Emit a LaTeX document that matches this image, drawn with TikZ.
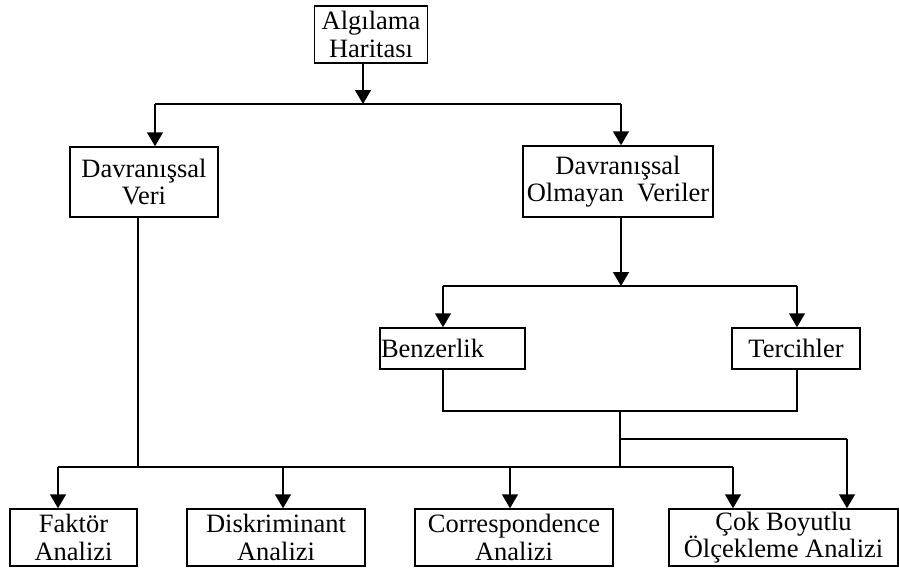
\documentclass[tikz,border=0pt]{standalone}
\usepackage{fontspec}
\setmainfont{Liberation Serif}
\usetikzlibrary{arrows.meta,calc}
\begin{document}
\begin{tikzpicture}[x=1pt,y=-1pt,
  box/.style={draw,line width=1.5pt,inner sep=0pt,align=center,
    font=\fontsize{26.5}{27.5}\selectfont},
  link/.style={line width=1.5pt},
  arr/.style={line width=1.5pt,-{Triangle[width=16pt,length=14pt]}}]
\useasboundingbox (0,0) rectangle (899,570);

% boxes
\node[box,minimum width=113pt,minimum height=57pt] (top) at (371,34.5) {Algılama\\Haritası};
\node[box,minimum width=148pt,minimum height=70pt] (dv) at (144,182) {Davranışsal\\Veri};
\node[box,minimum width=190pt,minimum height=71pt] (dov) at (618,181.5) {Davranışsal\\Olmayan\ \ Veriler};
\node[box,minimum width=145pt,minimum height=41pt,text width=143pt,align=left] (benz) at (452.5,348.5) {Benzerlik};
\node[box,minimum width=128pt,minimum height=41pt] (terc) at (796,348.5) {Tercihler};
\node[box,minimum width=127pt,minimum height=57pt] (fa) at (73.5,537.5) {Faktör\\Analizi};
\node[box,minimum width=178pt,minimum height=57pt] (di) at (276,537.5) {Diskriminant\\Analizi};
\node[box,minimum width=198pt,minimum height=57pt] (co) at (514,537.5) {Correspondence\\Analizi};
\node[box,minimum width=229pt,minimum height=57pt] (cb) at (783.5,537.5) {Çok Boyutlu\\Ölçekleme Analizi};

% first split
\coordinate (j1) at (363,104);
\coordinate (l1) at (155,104);
\coordinate (r1) at (621,104);
\draw[arr] (j1 |- top.south) -- (j1);
\draw[link] (l1) -- (r1);
\draw[arr] (l1) -- (l1 |- dv.north);
\draw[arr] (r1) -- (r1 |- dov.north);

% non-behavioural split
\coordinate (j2) at (621,286);
\coordinate (l2) at (443,286);
\coordinate (r2) at (797,286);
\draw[arr] (j2 |- dov.south) -- (j2);
\draw[link] (l2) -- (r2);
\draw[arr] (l2) -- (l2 |- benz.north);
\draw[arr] (r2) -- (r2 |- terc.north);

% merge of Benzerlik and Tercihler
\coordinate (ml) at (443,411);
\coordinate (mr) at (797,411);
\coordinate (mj) at (620,411);
\coordinate (mb) at (620,439);
\coordinate (mbr) at (847,439);
\coordinate (bj) at (620,467);
\draw[link] (ml |- benz.south) -- (ml) -- (mr) -- (mr |- terc.south);
\draw[link] (mj) -- (bj);
\draw[link] (mb) -- (mbr);
\draw[arr] (mbr) -- (mbr |- cb.north);

% bottom distribution line
\coordinate (b1) at (58,467);
\coordinate (b2) at (283,467);
\coordinate (b3) at (510,467);
\coordinate (b4) at (733,467);
\coordinate (bv) at (138,467);
\draw[link] (bv |- dv.south) -- (bv);
\draw[link] (b1) -- (b4);
\draw[arr] (b1) -- (b1 |- fa.north);
\draw[arr] (b2) -- (b2 |- di.north);
\draw[arr] (b3) -- (b3 |- co.north);
\draw[arr] (b4) -- (b4 |- cb.north);
\end{tikzpicture}
\end{document}
